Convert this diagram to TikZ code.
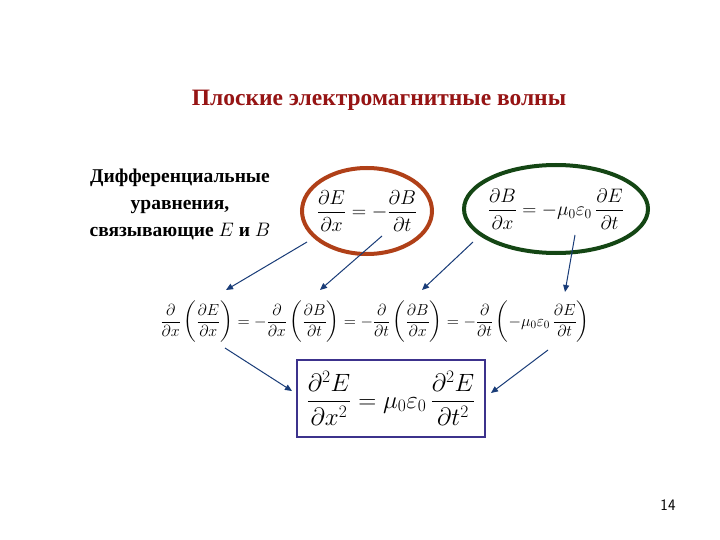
\RequirePackage{fix-cm}
\documentclass[tikz,border=0pt]{standalone}
\usepackage{amsmath}
\usepackage{fontspec}
\setmainfont{Liberation Serif}
\usetikzlibrary{arrows.meta}
\definecolor{titlered}{RGB}{150,20,20}
\definecolor{ebrown}{RGB}{176,64,24}
\definecolor{egreen}{RGB}{20,70,20}
\definecolor{boxblue}{RGB}{60,50,140}
\definecolor{arr}{RGB}{25,60,120}
\tikzset{conn/.style={draw=arr,line width=1pt,-{Triangle[length=7pt,width=6pt]}}}
\begin{document}
\begin{tikzpicture}[x=1pt,y=-1pt]
\useasboundingbox[fill=white] (0,0) rectangle (720,540);
\node[text=titlered,font=\fontsize{23.5}{26}\selectfont\bfseries] (title) at (379,100) {Плоские электромагнитные волны};
\node[align=center,font=\fontsize{19.5}{27}\selectfont\bfseries] (lbl) at (180,204) {Дифференциальные\\уравнения,\\связывающие $E$ и $B$};
\draw[ebrown,line width=4pt] (367,211) ellipse (65 and 43);
\draw[egreen,line width=4pt] (556,209) ellipse (92 and 44);
\node[font=\fontsize{20}{22}\selectfont] (eq1) at (367,211) {$\dfrac{\partial E}{\partial x}=-\dfrac{\partial B}{\partial t}$};
\node[font=\fontsize{19.5}{22}\selectfont] (eq2) at (556,209) {$\dfrac{\partial B}{\partial x}=-\mu_0\varepsilon_0\,\dfrac{\partial E}{\partial t}$};
\node[font=\fontsize{16}{18}\selectfont] (mid) at (375,322) {$\dfrac{\partial}{\partial x}\left(\dfrac{\partial E}{\partial x}\right)=-\dfrac{\partial}{\partial x}\left(\dfrac{\partial B}{\partial t}\right)=-\dfrac{\partial}{\partial t}\left(\dfrac{\partial B}{\partial x}\right)=-\dfrac{\partial}{\partial t}\left(-\mu_0\varepsilon_0\,\dfrac{\partial E}{\partial t}\right)$};
\draw[boxblue,line width=2.5pt] (297,360) rectangle (485,437);
\node[font=\fontsize{25}{28}\selectfont] (box) at (391,398) {$\dfrac{\partial^2 E}{\partial x^2}=\mu_0\varepsilon_0\,\dfrac{\partial^2 E}{\partial t^2}$};
\node[font=\sffamily\fontsize{16}{18}\selectfont] (pg) at (668,505) {14};
\coordinate (a1s) at (307,242); \coordinate (a1e) at (226,290);
\coordinate (a2s) at (382,236); \coordinate (a2e) at (320,290);
\coordinate (a3s) at (473,242); \coordinate (a3e) at (422,290);
\coordinate (a4s) at (575,235); \coordinate (a4e) at (565,292);
\coordinate (a5s) at (225,348); \coordinate (a5e) at (292,391);
\coordinate (a6s) at (548,350); \coordinate (a6e) at (491,393);
\draw[conn] (a1s) -- (a1e);
\draw[conn] (a2s) -- (a2e);
\draw[conn] (a3s) -- (a3e);
\draw[conn] (a4s) -- (a4e);
\draw[conn] (a5s) -- (a5e);
\draw[conn] (a6s) -- (a6e);
\end{tikzpicture}
\end{document}
